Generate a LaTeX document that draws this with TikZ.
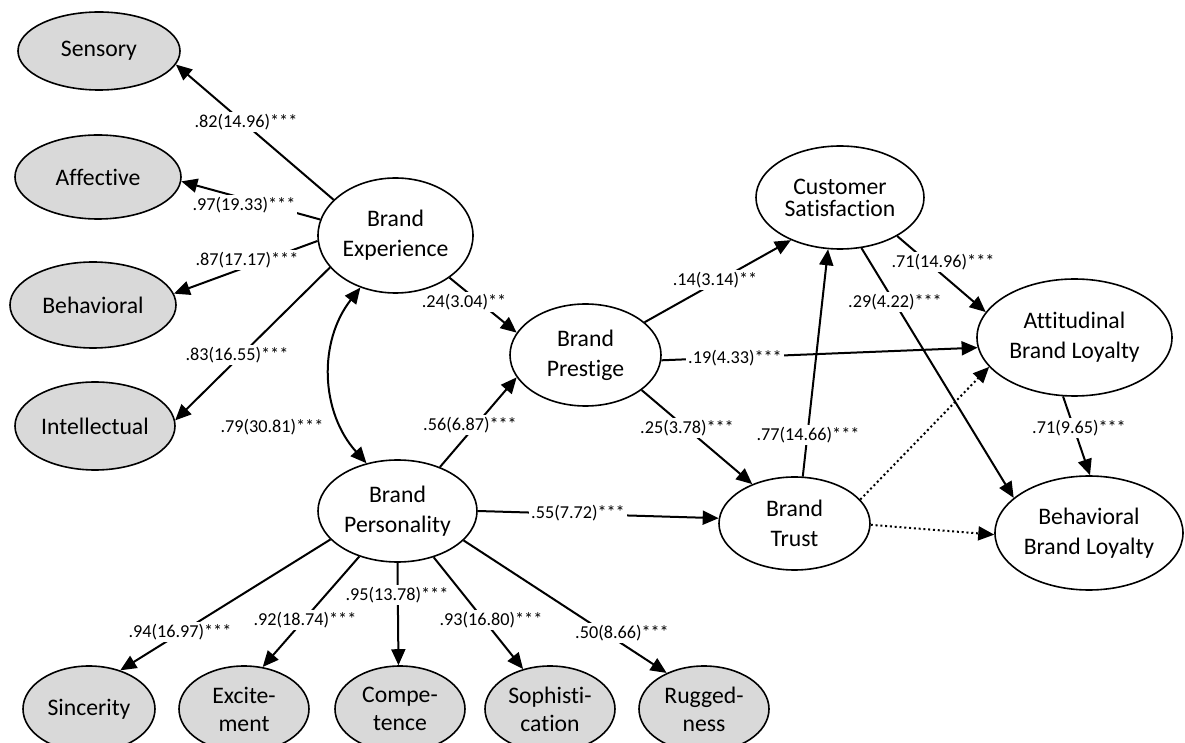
\documentclass[tikz,border=0pt]{standalone}
\usepackage{fontspec}
\setmainfont{Carlito}[RawFeature={-liga;-clig;-dlig;-calt;-rlig;-hlig}]
\usetikzlibrary{arrows.meta,shapes.geometric}
\definecolor{indgray}{RGB}{217,217,217}
\newcommand{\nti}{t\kern0pt i}
\tikzset{
  lat/.style={ellipse, draw, line width=0.8pt, inner sep=0pt, align=center,
    font=\fontsize{11.85}{15}\selectfont},
  ind/.style={lat, fill=indgray},
  arr/.style={line width=1pt, -{Triangle[length=8pt,width=7pt]}},
  dotarr/.style={arr, dash pattern=on 1pt off 1.4pt},
  lbl/.style={fill=white, inner sep=1pt, font=\fontsize{9.1}{11}\selectfont}
}
\begin{document}
\begin{tikzpicture}[x=0.5pt,y=-0.5pt]
\useasboundingbox (0,0) rectangle (1185,743);
% indicator nodes (left)
\node[ind, minimum width=81pt, minimum height=39pt] (sens) at (99,51) {Sensory};
\node[ind, minimum width=83pt, minimum height=42pt] (aff) at (98,177) {Affective};
\node[ind, minimum width=83pt, minimum height=43pt] (beh) at (93,305) {Behavioral};
\node[ind, minimum width=80pt, minimum height=44pt] (int) at (95,426) {Intellectual};
% latent nodes
\node[lat, minimum width=77.5pt, minimum height=57.5pt] (BE) at (395.5,235.5) {Brand\\Experience};
\node[lat, minimum width=79.5pt, minimum height=51pt] (BP) at (397.5,511) {Brand\\Personality};
\node[lat, minimum width=75.5pt, minimum height=51pt] (PR) at (585.5,355) {Brand\\Prestige};
\node[lat, minimum width=84pt, minimum height=51.5pt, font=\fontsize{11.85}{11}\selectfont] (CS) at (840,197.5) {Customer\\Satisfac\nti on};
\node[lat, minimum width=97.5pt, minimum height=58.5pt] (ABL) at (1074.5,337.5) {At\nti tudinal\\Brand Loyalty};
\node[lat, minimum width=75.5pt, minimum height=46.5pt] (BT) at (794.5,523.5) {Brand\\Trust};
\node[lat, minimum width=94pt, minimum height=57pt] (BBL) at (1089,533) {Behavioral\\Brand Loyalty};
% indicator nodes (bottom)
\node[ind, minimum width=66pt, minimum height=43pt] (sin) at (89,709) {Sincerity};
\node[ind, minimum width=65pt, minimum height=43pt, font=\fontsize{11.85}{14}\selectfont] (exc) at (244,709) {Excite-\\ment};
\node[ind, minimum width=65pt, minimum height=43pt, font=\fontsize{11.85}{14}\selectfont] (com) at (400,709) {Compe-\\tence};
\node[ind, minimum width=65pt, minimum height=43pt, font=\fontsize{11.85}{14}\selectfont] (sop) at (550,709) {Sophis\nti-\\ca\nti on};
\node[ind, minimum width=65pt, minimum height=43pt, font=\fontsize{11.85}{14}\selectfont] (rug) at (704,709) {Rugged-\\ness};
% connectors
\draw[arr] (BE.150) -- (sens.-10);
\draw[arr] (BE.168) -- (aff.-3);
\draw[arr] (BE.-176) -- (beh.8);
\draw[arr] (BE.-154) -- (int.4);
\draw[arr] (BE.-38) -- (PR.162);
\draw[arr] (BP.46) -- (PR.-162);
\draw[arr] (PR.29) -- (CS.-139);
\draw[arr] (PR.-4.5) -- (ABL.-174);
\draw[arr] (PR.-32) -- (BT.137);
\draw[arr] (BP.0) -- (BT.176.6);
\draw[arr] (BT.80) -- (CS.-103);
\draw[arr] (CS.-34) -- (ABL.164);
\draw[arr] (CS.-67) -- (BBL.155);
\draw[arr] (ABL.-101) -- (BBL.89);
\draw[dotarr] (BT.20) -- (ABL.-161);
\draw[dotarr] (BT.-1) -- (BBL.-179);
\draw[arr] (BP.-157) -- (sin.51);
\draw[arr] (BP.-130) -- (exc.66);
\draw[arr] (BP.-90) -- (com.92);
\draw[arr] (BP.-52) -- (sop.124);
\draw[arr] (BP.-24) -- (rug.136);
\draw[line width=1pt, {Triangle[length=8pt,width=7pt]}-{Triangle[length=8pt,width=7pt]}] (BE.-124) to[bend right=40] (BP.123);
% labels
\node[lbl] (l1) at (246,122) {.82(14.96)***};
\node[lbl] (l2) at (244,205) {.97(19.33)***};
\node[lbl] (l3) at (247,260) {.87(17.17)***};
\node[lbl] (l4) at (237,355) {.83(16.55)***};
\node[lbl] (lc) at (272,427) {.79(30.81)***};
\node[lbl] (l5) at (464,302) {.24(3.04)**};
\node[lbl] (l6) at (470,425) {.56(6.87)***};
\node[lbl] (l7) at (715,280) {.14(3.14)**};
\node[lbl] (l8) at (735,358) {.19(4.33)***};
\node[lbl] (l9) at (687,428) {.25(3.78)***};
\node[lbl] (l10) at (578,513) {.55(7.72)***};
\node[lbl] (l11) at (808,435) {.77(14.66)***};
\node[lbl] (l12) at (943,262) {.71(14.96)***};
\node[lbl] (l13) at (895,302) {.29(4.22)***};
\node[lbl] (l14) at (1079,428) {.71(9.65)***};
\node[lbl] (l17) at (180,632) {.94(16.97)***};
\node[lbl] (l18) at (305,620) {.92(18.74)***};
\node[lbl] (l19) at (397,595) {.95(13.78)***};
\node[lbl] (l20) at (491,620) {.93(16.80)***};
\node[lbl] (l21) at (622,633) {.50(8.66)***};
\end{tikzpicture}
\end{document}
